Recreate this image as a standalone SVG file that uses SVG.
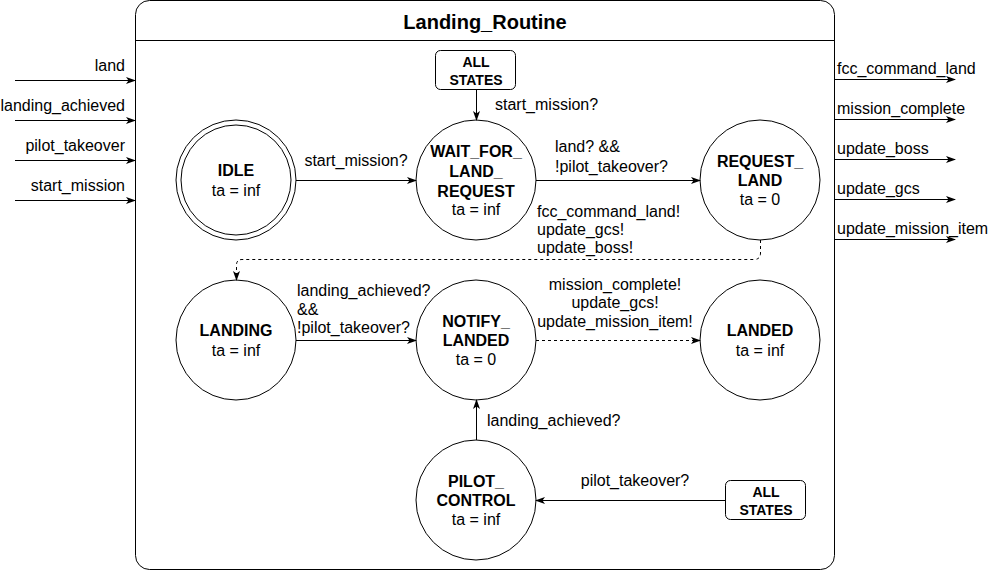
<svg xmlns="http://www.w3.org/2000/svg" width="989" height="571" viewBox="0 0 989 571">
<style>
text{font-family:"Liberation Sans",Arial,sans-serif;font-size:16px;fill:#000}
.b{font-weight:bold}
.t{font-weight:bold;font-size:20px}
.s{font-weight:bold;font-size:14px}
.m{text-anchor:middle}
.e{text-anchor:end}
.st{fill:#fff;stroke:#000;stroke-width:1}
.ln{fill:none;stroke:#000;stroke-width:1}
.d{stroke-dasharray:3 3}
</style>
<defs>
<marker id="a" viewBox="0 0 10 10" refX="9" refY="5" markerWidth="10" markerHeight="10" markerUnits="userSpaceOnUse" orient="auto">
<path d="M0,1.5 L10,5 L0,8.5 L2.5,5 Z" fill="#000"/>
</marker>
</defs>
<rect width="989" height="571" fill="#fff"/>
<g id="container">
<rect class="st" x="135.5" y="0.5" width="699" height="569" rx="14"/>
<line class="ln" x1="135.5" y1="40.5" x2="834.5" y2="40.5"/>
<text class="t m" x="485" y="29">Landing_Routine</text>
</g>
<g id="inputs">
<line class="ln" x1="15" y1="80.5" x2="135" y2="80.5" marker-end="url(#a)"/>
<line class="ln" x1="15" y1="120.5" x2="135" y2="120.5" marker-end="url(#a)"/>
<line class="ln" x1="15" y1="160.5" x2="135" y2="160.5" marker-end="url(#a)"/>
<line class="ln" x1="15" y1="200.5" x2="135" y2="200.5" marker-end="url(#a)"/>
<text class="e" x="125" y="71">land</text>
<text class="e" x="125" y="111">landing_achieved</text>
<text class="e" x="125" y="151">pilot_takeover</text>
<text class="e" x="125" y="191">start_mission</text>
</g>
<g id="outputs">
<line class="ln" x1="835" y1="79.5" x2="955" y2="79.5" marker-end="url(#a)"/>
<line class="ln" x1="835" y1="119.5" x2="955" y2="119.5" marker-end="url(#a)"/>
<line class="ln" x1="835" y1="159.5" x2="955" y2="159.5" marker-end="url(#a)"/>
<line class="ln" x1="835" y1="199.5" x2="955" y2="199.5" marker-end="url(#a)"/>
<line class="ln" x1="835" y1="239.5" x2="955" y2="239.5" marker-end="url(#a)"/>
<text x="837" y="74">fcc_command_land</text>
<text x="837" y="114">mission_complete</text>
<text x="837" y="154">update_boss</text>
<text x="837" y="194">update_gcs</text>
<text x="837" y="234">update_mission_item</text>
</g>
<g id="all_states_top">
<rect class="st" x="435.5" y="50.5" width="80" height="39" rx="5"/>
<text class="s m" x="476" y="67">ALL</text>
<text class="s m" x="476" y="85">STATES</text>
</g>
<g id="all_states_bottom">
<rect class="st" x="725.5" y="480.5" width="80" height="39" rx="5"/>
<text class="s m" x="766" y="497">ALL</text>
<text class="s m" x="766" y="515">STATES</text>
</g>
<g id="idle">
<circle class="st" cx="236" cy="180" r="60"/>
<circle class="st" cx="236" cy="180" r="55"/>
<text class="b m" x="236" y="176">IDLE</text>
<text class="m" x="236" y="196">ta = inf</text>
</g>
<g id="wait_for_land_request">
<circle class="st" cx="476" cy="180" r="60"/>
<text class="b m" x="476" y="157">WAIT_FOR_</text>
<text class="b m" x="476" y="177">LAND_</text>
<text class="b m" x="476" y="197">REQUEST</text>
<text class="m" x="476" y="215">ta = inf</text>
</g>
<g id="request_land">
<circle class="st" cx="760" cy="180" r="60"/>
<text class="b m" x="760" y="167">REQUEST_</text>
<text class="b m" x="760" y="186">LAND</text>
<text class="m" x="760" y="205">ta = 0</text>
</g>
<g id="landing">
<circle class="st" cx="236" cy="340" r="60"/>
<text class="b m" x="236" y="336">LANDING</text>
<text class="m" x="236" y="356">ta = inf</text>
</g>
<g id="notify_landed">
<circle class="st" cx="476" cy="340" r="60"/>
<text class="b m" x="476" y="327">NOTIFY_</text>
<text class="b m" x="476" y="346">LANDED</text>
<text class="m" x="476" y="365">ta = 0</text>
</g>
<g id="landed">
<circle class="st" cx="760" cy="340" r="60"/>
<text class="b m" x="760" y="336">LANDED</text>
<text class="m" x="760" y="356">ta = inf</text>
</g>
<g id="pilot_control">
<circle class="st" cx="476" cy="500" r="60"/>
<text class="b m" x="476" y="487">PILOT_</text>
<text class="b m" x="476" y="506">CONTROL</text>
<text class="m" x="476" y="525">ta = inf</text>
</g>
<g id="connectors">
<line class="ln" x1="476.5" y1="90" x2="476.5" y2="120" marker-end="url(#a)"/>
<text x="495" y="110">start_mission?</text>
<line class="ln" x1="296" y1="180.5" x2="416" y2="180.5" marker-end="url(#a)"/>
<text class="m" x="356" y="166">start_mission?</text>
<line class="ln" x1="536" y1="180.5" x2="700" y2="180.5" marker-end="url(#a)"/>
<text x="555" y="152">land? &amp;&amp;</text>
<text x="555" y="172">!pilot_takeover?</text>
<path class="ln d" d="M760.5,240 L760.5,253 Q760.5,259.5 754,259.5 L242,259.5 Q236.5,259.5 236.5,265 L236.5,280" marker-end="url(#a)"/>
<text x="537" y="217">fcc_command_land!</text>
<text x="537" y="235">update_gcs!</text>
<text x="537" y="253">update_boss!</text>
<line class="ln" x1="296" y1="340.5" x2="416" y2="340.5" marker-end="url(#a)"/>
<text x="297" y="296">landing_achieved?</text>
<text x="297" y="315">&amp;&amp;</text>
<text x="297" y="333">!pilot_takeover?</text>
<line class="ln d" x1="536" y1="340.5" x2="700" y2="340.5" marker-end="url(#a)"/>
<text class="m" x="615" y="290">mission_complete!</text>
<text class="m" x="615" y="308">update_gcs!</text>
<text class="m" x="615" y="327">update_mission_item!</text>
<line class="ln" x1="476.5" y1="440" x2="476.5" y2="400" marker-end="url(#a)"/>
<text x="487" y="426">landing_achieved?</text>
<line class="ln" x1="725" y1="500.5" x2="536" y2="500.5" marker-end="url(#a)"/>
<text class="m" x="635" y="486">pilot_takeover?</text>
</g>
</svg>
